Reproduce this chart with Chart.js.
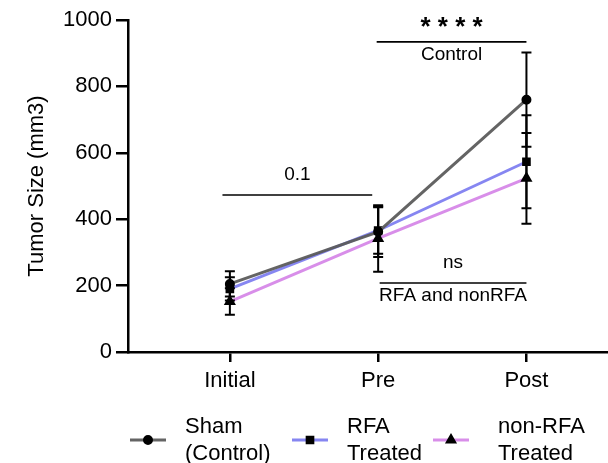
<!DOCTYPE html>
<html>
<head>
<meta charset="utf-8">
<script src="https://cdn.jsdelivr.net/npm/chart.js@4.4.1/dist/chart.umd.min.js"></script>
<style>
  html, body { margin: 0; padding: 0; background: #fff; }
  #wrap { width: 608px; height: 463px; }
</style>
</head>
<body>
<div id="wrap"><canvas id="tumorChart" width="608" height="463"></canvas></div>
<script>
// timepoints on the x axis
const timepoints = ["Initial", "Pre", "Post"];

// mean tumor size (mm3) per group
const shamValues = [205, 362, 760];
const rfaValues = [190, 366, 573];
const nonRfaValues = [152, 342, 523];

// error bar half-widths
const shamErr = [38, 76, 142];
const rfaErr = [35, 70, 140];
const nonRfaErr = [40, 100, 137];

const yTicks = [0, 200, 400, 600, 800, 1000];

const legendLabels = [["Sham", "(Control)"], ["RFA", "Treated"], ["non-RFA", "Treated"]];

// significance brackets: [xFrom, xTo, yLine, textAbove, textBelow]
const brackets = [
  [-0.05, 0.96, 473, "0.1", ""],
  [0.99, 2.0, 934, "* * * *", "Control"],
  [1.01, 2.0, 208, "ns", "RFA and nonRFA"]
];

const FONT = "'Liberation Sans', Arial, sans-serif";

const toPoints = (vals) => vals.map((v, i) => ({ x: i, y: v }));

const errorBars = {
  id: "errorBars",
  afterDatasetsDraw(chart) {
    const { ctx, scales: { x, y } } = chart;
    ctx.save();
    ctx.strokeStyle = "#000";
    ctx.lineWidth = 2;
    chart.data.datasets.forEach((ds) => {
      ds.data.forEach((p, i) => {
        const e = ds.err[i];
        const px = x.getPixelForValue(p.x);
        const top = y.getPixelForValue(p.y + e);
        const bot = y.getPixelForValue(p.y - e);
        ctx.beginPath();
        ctx.moveTo(px, top); ctx.lineTo(px, bot);
        ctx.moveTo(px - 5, top); ctx.lineTo(px + 5, top);
        ctx.moveTo(px - 5, bot); ctx.lineTo(px + 5, bot);
        ctx.stroke();
      });
    });
    ctx.restore();
  }
};

const sigBrackets = {
  id: "sigBrackets",
  afterDraw(chart) {
    const { ctx, scales: { x, y } } = chart;
    ctx.save();
    ctx.strokeStyle = "#000";
    ctx.fillStyle = "#000";
    ctx.lineWidth = 1.6;
    ctx.textAlign = "center";
    ctx.textBaseline = "middle";
    brackets.forEach(([x0, x1, yv, above, below]) => {
      const a = x.getPixelForValue(x0), b = x.getPixelForValue(x1);
      const py = y.getPixelForValue(yv);
      ctx.beginPath();
      ctx.moveTo(a, py); ctx.lineTo(b, py);
      ctx.stroke();
      const cx = (a + b) / 2;
      if (above.startsWith("*")) {
        ctx.font = "bold 26px " + FONT;
        ctx.fillText(above, cx, py - 14);
      } else {
        ctx.font = "19px " + FONT;
        ctx.fillText(above, cx, py - 20);
      }
      if (below) {
        ctx.font = "19px " + FONT;
        ctx.fillText(below, cx, py + 13);
      }
    });
    ctx.restore();
  }
};

const customLegend = {
  id: "customLegend",
  afterDraw(chart) {
    const { ctx } = chart;
    const lineX = [130, 292, 433];
    const textX = [185, 347, 498];
    ctx.save();
    legendLabels.forEach((lbl, i) => {
      const ds = chart.data.datasets[i];
      const ly = 440;
      ctx.strokeStyle = ds.borderColor;
      ctx.lineWidth = 3;
      ctx.beginPath();
      ctx.moveTo(lineX[i], ly); ctx.lineTo(lineX[i] + 36, ly);
      ctx.stroke();
      ctx.fillStyle = "#000";
      ctx.strokeStyle = "#000";
      Chart.helpers.drawPoint(ctx, {
        pointStyle: ds.pointStyle, radius: ds.pointRadius, borderWidth: 1
      }, lineX[i] + 18, ly);
      ctx.fillStyle = "#000";
      ctx.font = "22px " + FONT;
      ctx.textAlign = "left";
      ctx.textBaseline = "middle";
      ctx.fillText(lbl[0], textX[i], 427);
      ctx.fillText(lbl[1], textX[i], 454);
    });
    ctx.restore();
  }
};

const mk = (label, vals, err, color, style, r, order) => ({
  label, data: toPoints(vals), err, order,
  borderColor: color, borderWidth: 3,
  pointStyle: style, pointRadius: r,
  pointBackgroundColor: "#000", pointBorderColor: "#000",
  fill: false, tension: 0
});

new Chart(document.getElementById("tumorChart"), {
  type: "line",
  data: {
    datasets: [
      mk("Sham (Control)", shamValues, shamErr, "rgba(92,92,92,0.95)", "circle", 3.5, 0),
      mk("RFA Treated", rfaValues, rfaErr, "rgba(128,128,240,0.95)", "rect", 4, 1),
      mk("non-RFA Treated", nonRfaValues, nonRfaErr, "rgba(214,136,232,0.95)", "triangle", 4, 2)
    ]
  },
  options: {
    responsive: false,
    animation: false,
    layout: { autoPadding: false, padding: { top: 20, right: 0, bottom: 66, left: 24 } },
    plugins: { legend: { display: false }, tooltip: { enabled: false } },
    scales: {
      x: {
        type: "linear",
        min: -0.687,
        max: 2.55,
        afterBuildTicks: (s) => { s.ticks = timepoints.map((_, i) => ({ value: i })); },
        afterFit: (s) => { s.height = 45; s.paddingLeft = 0; s.paddingRight = 0; },
        border: { color: "#000", width: 2.5 },
        grid: { drawOnChartArea: false, drawTicks: true, tickLength: 10, color: "#000", lineWidth: 2.5 },
        ticks: {
          color: "#000", font: { family: FONT, size: 22 }, padding: 6,
          callback: (v) => timepoints[v] ?? ""
        }
      },
      y: {
        min: 0,
        max: 1000,
        afterBuildTicks: (s) => { s.ticks = yTicks.map((v) => ({ value: v })); },
        afterFit: (s) => { s.width = 104; },
        border: { color: "#000", width: 2.5 },
        grid: { drawOnChartArea: false, drawTicks: true, tickLength: 12, color: "#000", lineWidth: 2.5 },
        ticks: {
          color: "#000", font: { family: FONT, size: 22 }, padding: 4,
          callback: (v) => String(v)
        },
        title: {
          display: true, text: "Tumor Size (mm3)", color: "#000",
          font: { family: FONT, size: 22 }, padding: { top: 0, bottom: 0 }
        }
      }
    }
  },
  plugins: [errorBars, sigBrackets, customLegend]
});
</script>
</body>
</html>
